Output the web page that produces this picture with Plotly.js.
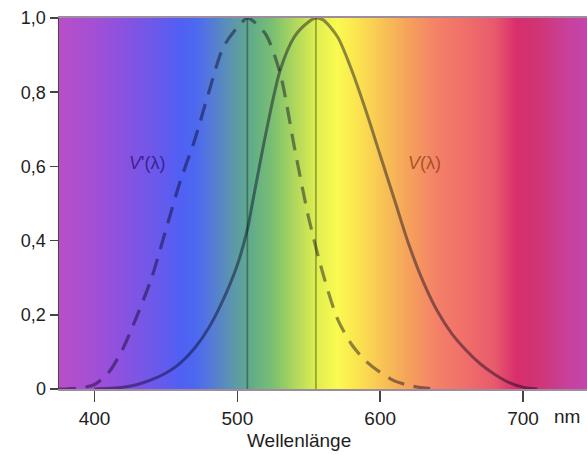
<!DOCTYPE html>
<html>
<head>
<meta charset="utf-8">
<script src="https://cdn.plot.ly/plotly-3.0.1.min.js"></script>
<style>
html,body{margin:0;padding:0;background:#fff;}
#chart{width:587px;height:455px;}
</style>
</head>
<body>
<div id="chart"></div>
<script>
// Photopic sensitivity V(λ)
const photWl  = [400, 410, 420, 430, 440, 450, 460, 470, 480, 490, 500, 507, 510, 520, 530, 540, 550, 555, 560, 570, 580, 590, 600, 610, 620, 630, 640, 650, 660, 670, 680, 690, 700, 710];
const photVal = [0.0, 0.002, 0.005, 0.012, 0.025, 0.043, 0.07, 0.11, 0.165, 0.24, 0.335, 0.43, 0.49, 0.69, 0.86, 0.95, 0.99, 1.0, 0.995, 0.95, 0.86, 0.75, 0.63, 0.51, 0.39, 0.29, 0.21, 0.15, 0.105, 0.068, 0.04, 0.018, 0.005, 0.0];
// Scotopic sensitivity V'(λ)
const scotWl  = [375, 380, 390, 400, 410, 420, 430, 440, 450, 460, 470, 480, 490, 500, 507, 510, 520, 530, 540, 550, 560, 570, 580, 590, 600, 610, 620, 630, 640];
const scotVal = [0.0, 0.0, 0.003, 0.012, 0.045, 0.11, 0.2, 0.30, 0.43, 0.56, 0.67, 0.80, 0.92, 0.975, 1.0, 0.995, 0.955, 0.85, 0.65, 0.46, 0.31, 0.19, 0.12, 0.075, 0.045, 0.022, 0.01, 0.003, 0.0];
// Peak wavelengths
const peakScot = 507;
const peakPhot = 555;
// Visible spectrum background
const specWl    = [370, 380, 400, 420, 440, 460, 470, 480, 495, 510, 525, 540, 555, 570, 585, 600, 620, 640, 660, 680, 695, 710, 730, 750];
const specColor = ['#bf4fc4','#b44fcb','#a24fd6','#8a52e0','#6e58ea','#5060f4','#4c68f0','#5478dc','#5c94b0','#62ad88','#7cc070','#b0d85c','#e0ee50','#fafa50','#fbe150','#f8c654','#f5a05c','#f48068','#f06e6a','#e85a6c','#d82e6c','#d03474','#c8409a','#c048b4'];
// Axis ticks
const yTickVals = [0, 0.2, 0.4, 0.6, 0.8, 1.0];
const yTickText = ['0', '0,2', '0,4', '0,6', '0,8', '1,0'];
const xTickVals = [400, 500, 600, 700];
const xTickText = ['400', '500', '600', '700'];

const wlMin = specWl[0], wlMax = specWl[specWl.length - 1];
const colorscale = specWl.map((w, i) => [(w - wlMin) / (wlMax - wlMin), specColor[i]]);

const lineCol = 'rgba(5,0,30,0.44)';
const peakCol = 'rgba(0,30,0,0.38)';

const traces = [
  {
    type: 'heatmap', x: specWl, y: [0, 1], z: [specWl, specWl],
    colorscale: colorscale, zmin: wlMin, zmax: wlMax, zsmooth: 'best',
    showscale: false, hoverinfo: 'skip'
  },
  { type: 'scatter', mode: 'lines', x: [peakScot, peakScot], y: [0, 1],
    line: {color: peakCol, width: 1.6}, hoverinfo: 'skip' },
  { type: 'scatter', mode: 'lines', x: [peakPhot, peakPhot], y: [0, 1],
    line: {color: peakCol, width: 1.6}, hoverinfo: 'skip' },
  { type: 'scatter', mode: 'lines', x: scotWl, y: scotVal, line: {shape: 'spline', smoothing: 0.8, color: lineCol, width: 3.2, dash: '17px,10px'}, cliponaxis: false },
  { type: 'scatter', mode: 'lines', x: photWl, y: photVal, line: {shape: 'spline', smoothing: 0.8, color: lineCol, width: 3}, cliponaxis: false }
];

const xFont = {family: 'Liberation Sans, Arial, sans-serif', size: 19, color: '#1e1e1e'};
const yFont = {family: 'Liberation Sans, Arial, sans-serif', size: 18, color: '#1e1e1e'};

const layout = {
  width: 587, height: 455,
  margin: {l: 59, r: 0, t: 18, b: 66},
  paper_bgcolor: '#fff', plot_bgcolor: '#fff',
  showlegend: false,
  xaxis: {
    range: [375.1, 744.8], showgrid: false, zeroline: false,
    tickvals: xTickVals, ticktext: xTickText, tickfont: xFont,
    ticks: 'outside', ticklen: 11, tickwidth: 1.5, tickcolor: '#444',
    showline: true, linecolor: 'rgba(40,0,40,0.45)', linewidth: 2, mirror: true
  },
  yaxis: {
    range: [0, 1], showgrid: false, zeroline: false,
    tickvals: yTickVals, ticktext: yTickText, tickfont: yFont,
    ticks: 'outside', ticklen: 8, tickwidth: 1.5, tickcolor: '#444',
    showline: true, linecolor: '#444', linewidth: 1.5
  },
  annotations: [
    {text: "<i>V</i>'(λ)", x: 437, y: 0.61, xref: 'x', yref: 'y', showarrow: false,
     font: {family: 'Liberation Sans, Arial, sans-serif', size: 18, color: 'rgba(50,20,130,0.85)'}},
    {text: '<i>V</i>(λ)', x: 631, y: 0.61, xref: 'x', yref: 'y', showarrow: false,
     font: {family: 'Liberation Sans, Arial, sans-serif', size: 18, color: 'rgba(140,60,20,0.75)'}},
    {text: 'nm', x: 731, y: -0.074, xref: 'x', yref: 'paper', showarrow: false, yanchor: 'middle',
     font: xFont},
    {text: 'Wellenlänge', x: 543, y: -0.138, xref: 'x', yref: 'paper', showarrow: false, yanchor: 'middle',
     font: xFont}
  ]
};

Plotly.newPlot('chart', traces, layout, {displayModeBar: false, staticPlot: true});
</script>
</body>
</html>
